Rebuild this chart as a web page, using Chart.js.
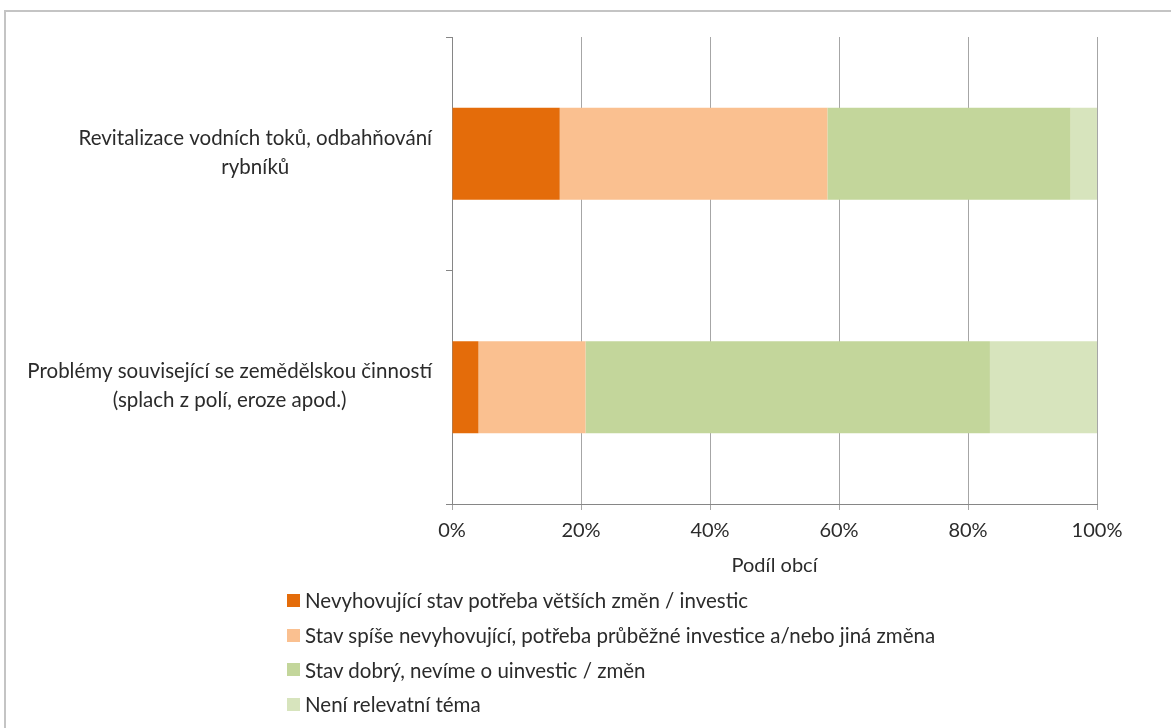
<!DOCTYPE html>
<html>
<head>
<meta charset="utf-8">
<script src="https://cdn.jsdelivr.net/npm/chart.js@4"></script>
<style>
  body { margin: 0; background: #fff; overflow: hidden; width: 1171px; height: 728px; position: relative; font-family: Lato, sans-serif; }
  .frame { position: absolute; left: 4px; top: 10px; width: 1300px; height: 900px; border: 2px solid #c4c4c4; }
  #chart { position: absolute; left: 0; top: 0; }
  .legend { position: absolute; left: 287px; top: 583px; }
  .legend .row { height: 34.7px; display: flex; align-items: center; font-size: 20.5px; color: #2b2b2b; white-space: nowrap; }
  .legend .box { width: 13px; height: 13px; margin-right: 5px; flex: none; }
</style>
</head>
<body>
<div class="frame"></div>
<canvas id="chart" width="1171" height="585"></canvas>
<div class="legend"></div>
<script>
// categories (each one split into its printed lines)
const categories = [
  ["Revitalizace vodních toků, odbahňování", "rybníků"],
  ["Problémy související se zemědělskou činností", "(splach z polí, eroze apod.)"]
];

const seriesNames = [
  "Nevyhovující stav potřeba větších změn / investic",
  "Stav spíše nevyhovující, potřeba průběžné investice a/nebo jiná změna",
  "Stav dobrý, nevíme o uinvestic / změn",
  "Není relevatní téma"
];
const seriesColors = ["#E46C0A", "#FAC090", "#C3D69B", "#D7E4BD"];

// share of municipalities, in %
const nevyhovujici = [16.7, 4.1];
const spiseNevyhovujici = [41.5, 16.6];
const dobry = [37.7, 62.7];
const nerelevantni = [4.1, 16.6];

const xTicks = [0, 20, 40, 60, 80, 100];
const xTitle = "Podíl obcí";

const seriesValues = [nevyhovujici, spiseNevyhovujici, dobry, nerelevantni];

// y labels: block right aligned, lines centred inside the block (like Excel)
const yLabelPlugin = {
  id: "yLabels",
  afterDraw(chart) {
    const ctx = chart.ctx;
    const y = chart.scales.y;
    ctx.save();
    ctx.font = "20.5px Lato";
    ctx.fillStyle = "#2b2b2b";
    ctx.textAlign = "center";
    ctx.textBaseline = "middle";
    const lineH = 29;
    categories.forEach((lines, i) => {
      const yc = y.getPixelForValue(i);
      const w = Math.max(...lines.map(l => ctx.measureText(l).width));
      const cx = y.right - 20 - w / 2;
      lines.forEach((line, j) => {
        ctx.fillText(line, cx, yc - 1 + (j - (lines.length - 1) / 2) * lineH);
      });
    });
    ctx.restore();
  }
};

const chart = new Chart(document.getElementById("chart"), {
  type: "bar",
  data: {
    labels: categories.map(c => c.join(" ")),
    datasets: seriesNames.map((name, i) => ({
      label: name,
      data: seriesValues[i],
      backgroundColor: seriesColors[i],
      borderWidth: 0,
      barPercentage: 0.395,
      categoryPercentage: 1
    }))
  },
  options: {
    indexAxis: "y",
    responsive: false,
    animation: false,
    layout: { padding: { top: 37, right: 74, left: 0, bottom: 0 } },
    plugins: {
      legend: { display: false },
      tooltip: { enabled: false }
    },
    scales: {
      x: {
        stacked: true,
        min: 0,
        max: 100,
        afterBuildTicks: s => { s.ticks = xTicks.map(v => ({ value: v })); },
        afterFit: s => { s.height = 81; },
        ticks: {
          callback: v => v + "%",
          color: "#2b2b2b",
          font: { family: "Lato", size: 20 },
          padding: 9,
          maxRotation: 0
        },
        grid: { color: "#a6a6a6", lineWidth: 1, drawTicks: true, tickLength: 6 },
        border: { color: "#868686", width: 1 },
        title: {
          display: true,
          text: xTitle,
          color: "#2b2b2b",
          font: { family: "Lato", size: 20 },
          padding: { top: 4, bottom: 7 }
        }
      },
      y: {
        stacked: true,
        afterFit: s => { s.width = 452; },
        ticks: { display: false },
        grid: { offset: true, drawOnChartArea: false, drawTicks: true, tickLength: 6, color: "#868686" },
        border: { color: "#868686", width: 1 }
      }
    }
  },
  plugins: [yLabelPlugin]
});

// legend, one item per row, built from the datasets
const legend = document.querySelector(".legend");
chart.data.datasets.forEach(ds => {
  const row = document.createElement("div");
  row.className = "row";
  const box = document.createElement("span");
  box.className = "box";
  box.style.background = ds.backgroundColor;
  const txt = document.createElement("span");
  txt.textContent = ds.label;
  row.appendChild(box);
  row.appendChild(txt);
  legend.appendChild(row);
});
</script>
</body>
</html>
